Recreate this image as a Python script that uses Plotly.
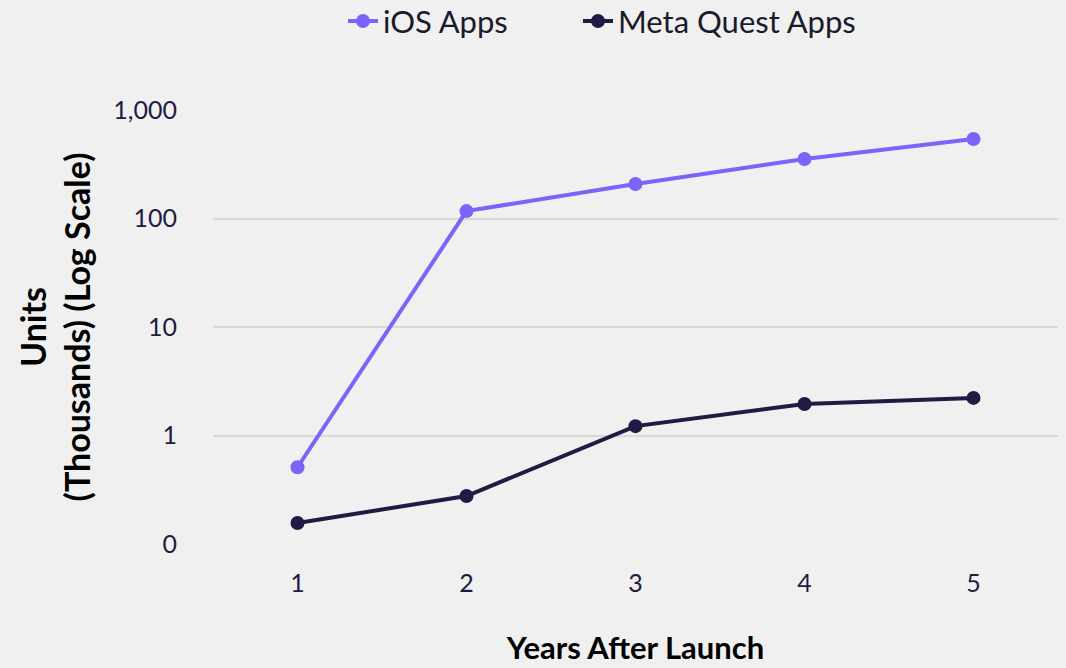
import plotly.graph_objects as go

years = [1, 2, 3, 4, 5]
ios_apps = [0.51, 117, 208, 353, 540]
meta_quest_apps = [0.156, 0.277, 1.22, 1.95, 2.22]
y_tick_vals = [0.1, 1, 10, 100, 1000]
y_tick_text = ["0", "1", "10", "100", "1,000"]

FONT = "Lato"
PURPLE = "#7C63FA"
NAVY = "#1E1B45"
fig = go.Figure()
fig.add_trace(go.Scatter(x=years, y=ios_apps, name="iOS Apps", mode="lines+markers",
                         line=dict(color=PURPLE, width=4),
                         marker=dict(size=14, color=PURPLE), legend="legend"))
fig.add_trace(go.Scatter(x=years, y=meta_quest_apps, name="Meta Quest Apps", mode="lines+markers",
                         line=dict(color=NAVY, width=4),
                         marker=dict(size=14, color=NAVY), legend="legend2"))

leg_common = dict(orientation="h", xref="container", yref="container", xanchor="left",
                  y=0.968, yanchor="middle", font=dict(size=31, color="#1a1a2e"),
                  bgcolor="rgba(0,0,0,0)")
fig.update_layout(
    width=1066, height=668,
    paper_bgcolor="#F0F0F0", plot_bgcolor="#F0F0F0",
    margin=dict(l=213, r=8, t=110, b=124, autoexpand=False),
    font=dict(family=FONT, color=NAVY, size=25),
    legend=dict(x=343 / 1066, **leg_common),
    legend2=dict(x=578 / 1066, **leg_common),
    showlegend=True,
)
fig.update_xaxes(range=[0.5, 5.5], tickvals=years, ticktext=[str(y) for y in years],
                 showgrid=False, zeroline=False, showline=False,
                 tickfont=dict(size=25, color=NAVY), ticklabelstandoff=22,
                 title=dict(text="<b>Years After Launch</b>", font=dict(size=31, color="black"), standoff=41))
fig.update_yaxes(type="log", range=[-1, 3], tickvals=y_tick_vals, ticktext=y_tick_text,
                 showgrid=True, gridcolor="#D9D9D9", gridwidth=1.5, zeroline=False, showline=False,
                 tickfont=dict(size=25, color=NAVY), ticklabelstandoff=35,
                 title=dict(text="<b>Units<br>(Thousands) (Log Scale)</b>", font=dict(size=34, color="black"), standoff=12))

fig.write_html("out.html", config={"displayModeBar": False},
               post_script="document.body.style.margin='0';document.body.style.background='#F0F0F0';")
